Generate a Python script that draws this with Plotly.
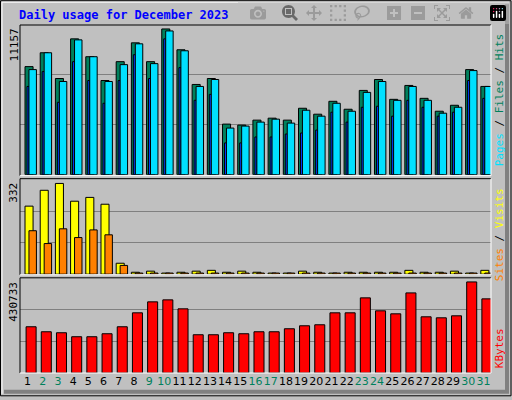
import plotly.graph_objects as go

days = list(range(1, 32))
weekend = {2, 3, 9, 10, 16, 17, 23, 24, 30, 31}
hits_max = 11157
px = hits_max / 147
hits = [round(h * px) for h in [109,123,97,137,119,95,114,133,114,147,126,91,97,51,50,55,57,55,67,61,74,66,85,96,76,90,77,64,70,106,89]]
files = [round(h * px) for h in [106,123,94,136,119,94,111,132,112,145,125,89,96,47,49,53,56,52,65,59,72,64,83,94,75,89,75,62,68,105,89]]
pages = [round(h * px) for h in [89,104,73,114,95,72,95,121,97,137,108,75,81,32,32,38,38,41,42,45,63,53,68,69,59,75,68,59,63,95,77]]
visits_max = 332
vpx = visits_max / 92
visits = [round(h * vpx) for h in [69,85,92,74,78,71,11,2,3,1,2,3,4,2,3,2,1,1,3,2,1,2,2,2,2,4,2,2,3,1,4]]
sites = [round(h * vpx) for h in [44,31,46,37,45,40,9,1,1,1,1,1,1,1,1,1,1,1,1,1,1,1,1,1,1,1,1,1,1,1,1]]
kb_max = 430733
kpx = kb_max / 91.4
kbytes = [round(h * kpx) for h in [46.4,41.4,40.4,36.4,36.4,39.4,46.4,60.4,71.4,73.4,64.4,38.4,38.4,40.4,39.4,41.4,41.4,44.4,47.4,48.4,60.4,60.4,75.4,62.4,59.4,80.4,56.4,55.4,57.4,91.4,74.4]]

ln = dict(color="black", width=1)
fig = go.Figure()
def bar(y, color, off, w, ya):
    fig.add_trace(go.Bar(x=days, y=y, offset=off, width=w, marker=dict(color=color, line=ln),
                         yaxis=ya, xaxis="x" if ya == "y" else "x" + ya[1:]))
bar(hits, "#00805c", -0.17, 0.53, "y3")
bar(pages, "#0040ff", -0.04, 0.14, "y3")
bar(files, "#00e0ff", 0.09, 0.49, "y3")
bar(visits, "#ffff00", -0.17, 0.53, "y2")
bar(sites, "#ff8000", 0.09, 0.49, "y2")
bar(kbytes, "#ff0000", -0.1, 0.66, "y")

ticktext = [f'<span style="color:{"#00805c" if d in weekend else "black"}">{d}</span>' for d in days]
xcommon = dict(range=[0.5, 31.5], showgrid=False, zeroline=False, showline=False, fixedrange=True)
top3 = hits_max * 151 / 147
top2 = visits_max * 96 / 92
top1 = kb_max * 95 / 91.4
def yax(dom, top):
    return dict(domain=dom, range=[0, top], tickvals=[top / 3, 2 * top / 3], showticklabels=False,
                showgrid=True, gridcolor="#808080", gridwidth=1, zeroline=False, ticks="")
fig.update_layout(
    width=512, height=400, margin=dict(l=20, r=21, t=25, b=24),
    paper_bgcolor="#c0c0c0", plot_bgcolor="#c0c0c0", showlegend=False, barmode="overlay",
    font=dict(family="DejaVu Sans Mono", size=11, color="black"),
    xaxis=dict(**xcommon, tickvals=days, ticktext=ticktext, ticks="", anchor="y", tickangle=0,
               tickfont=dict(family="DejaVu Sans", size=11)),
    xaxis2=dict(**xcommon, showticklabels=False, anchor="y2"),
    xaxis3=dict(**xcommon, showticklabels=False, anchor="y3"),
    yaxis=yax([0.0, 0.272], top1),
    yaxis2=yax([0.284, 0.556], top2),
    yaxis3=yax([0.570, 1.0], top3),
)

def pxx(p): return (p - 20) / 471
def pxy(p): return (376 - p) / 351
shapes = []
def line(x0, y0, x1, y1, c, w=1):
    shapes.append(dict(type="line", xref="paper", yref="paper", x0=pxx(x0), y0=pxy(y0), x1=pxx(x1), y1=pxy(y1), line=dict(color=c, width=w)))
for (t, b) in [(25, 177), (180, 277), (280, 376)]:
    line(20, t, 491, t, "black"); line(20, t, 20, b, "black")
    line(20, b, 491, b, "white"); line(491, t, 491, b, "white")
# outer frame
line(0.5, 0.5, 511, 0.5, "black"); line(0.5, 0.5, 0.5, 399, "black")
line(0.5, 399, 511, 399, "black"); line(511, 0.5, 511, 399, "black")
line(2, 2, 509, 2, "white"); line(2, 2, 2, 397, "white")
line(4, 395, 509, 395, "#808080", 4); line(507, 4, 507, 395, "#808080", 4)
fig.update_layout(shapes=shapes)

ann = []
def a(x, y, text, angle=0, color="black", size=11, xa="left", ya="middle"):
    ann.append(dict(xref="paper", yref="paper", x=pxx(x), y=pxy(y), text=text, showarrow=False,
                    textangle=angle, font=dict(color=color, size=size), xanchor=xa, yanchor=ya))
a(17, 15, "<b>Daily usage for December 2023</b>", color="#0000ff", size=12)
a(14, 27, str(hits_max), -90, ya="top", xa="center")
a(14, 182, str(visits_max), -90, ya="top", xa="center")
a(14, 282, str(kb_max), -90, ya="top", xa="center")
a(499, 101, '<span style="color:#00e0ff">Pages</span> / <span style="color:#00805c">Files</span> / <span style="color:#00805c">Hits</span>', -90, xa="center", ya="middle")
a(499, 237, '<span style="color:#ff8000">Sites</span> / <span style="color:#ffff00">Visits</span>', -90, xa="center")
a(499, 351, '<span style="color:#ff0000">KBytes</span>', -90, xa="center")
fig.update_layout(annotations=ann)
fig.write_html("out.html")
with open("out.html", encoding="utf-8") as f:
    html = f.read()
html = html.replace("<head>", "<head><style>html,body{margin:0;padding:0;overflow:hidden}</style>", 1)
with open("out.html", "w", encoding="utf-8") as f:
    f.write(html)
